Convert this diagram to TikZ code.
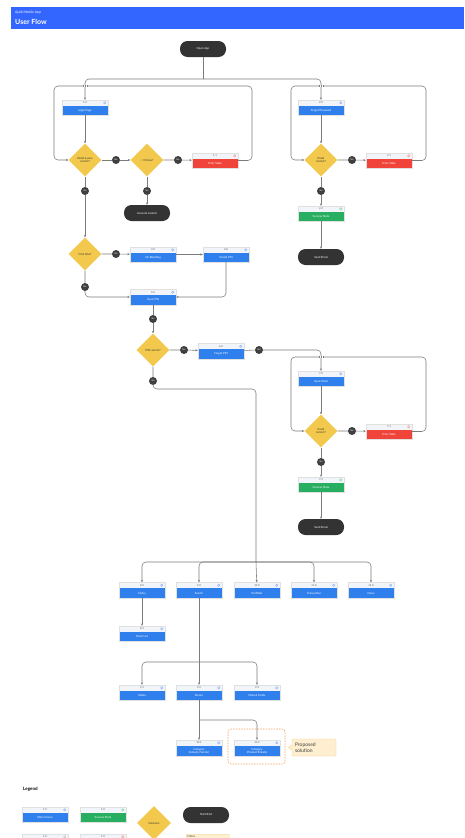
\documentclass[tikz,border=0pt]{standalone}
\usepackage{fontspec}
\setmainfont{Lato}
\usetikzlibrary{arrows.meta,calc,shapes.geometric}

\definecolor{hdrblue}{HTML}{3366FF}
\definecolor{scrblue}{HTML}{2F80ED}
\definecolor{errred}{HTML}{F0443A}
\definecolor{okgreen}{HTML}{27AE60}
\definecolor{decyellow}{HTML}{F2C94C}
\definecolor{pilldark}{HTML}{333333}
\definecolor{hdrgray}{HTML}{F1F4F8}
\definecolor{linegray}{HTML}{7C7C7C}
\definecolor{bubblegray}{HTML}{3F3F3F}
\definecolor{notefill}{HTML}{FDEFCF}
\definecolor{notedraw}{HTML}{F6D58E}
\definecolor{propdash}{HTML}{F5A35C}
\definecolor{iconblue}{HTML}{7AA7F5}
\definecolor{iconred}{HTML}{F28B82}
\definecolor{icongreen}{HTML}{6FCF97}
\definecolor{icongray}{HTML}{B8B8B8}

\tikzset{
  scr/.style={rectangle, minimum width=46, inner sep=0, draw=none},
  scrnum/.style={font=\fontsize{2.6}{3}\selectfont, text=black!65, inner sep=0},
  scrtxt/.style={font=\fontsize{2.8}{3.3}\selectfont, text=white, align=center, inner sep=0},
  dec/.style={diamond, fill=decyellow, minimum width=33, minimum height=33, inner sep=0,
    align=center, font=\fontsize{2.8}{3.3}\selectfont, text=black!80},
  pill/.style={rectangle, rounded corners=7.5, fill=pilldark, minimum width=46, minimum height=16,
    text=white, font=\fontsize{2.8}{3.3}\selectfont},
  bub/.style={circle, fill=bubblegray, minimum size=8, inner sep=0, text=white,
    font=\fontsize{2.3}{2.6}\selectfont},
  conn/.style={draw=linegray, line width=0.55pt},
  flow/.style={conn, -{Stealth[length=2.4pt, width=2.2pt]}},
  notebox/.style={fill=notefill, draw=notedraw, line width=0.4pt, rounded corners=0.8,
    align=left, text=black!75},
  propbox/.style={draw=propdash, line width=0.6pt, dash pattern=on 1.5pt off 1.2pt, rounded corners=3},
}

% screen: [height] name, position, number, text, colour, icon colour
\newcommand{\screenbox}[7][15]{%
  \node[scr, minimum height=#1] (#2) at (#3) {};
  \fill[hdrgray] (#2.north west) rectangle ($(#2.north east)+(0,6)$);
  \fill[#6] ($(#2.north west)+(0,6)$) rectangle (#2.south east);
  \draw[black!12, line width=0.2pt] (#2.north west) rectangle (#2.south east);
  \node[scrnum] (#2-no) at ($(#2.north)+(0,3)$) {#4};
  \node[scrtxt] (#2-tx) at ($(#2.south)+(0,{-(#1-6)/2})$) {#5};
  \draw[#7, line width=0.35pt] ($(#2.north east)+(-3.5,3)$) circle (1.2pt);
}

% line jump where a connector crosses a loop
\newcommand{\jumpmark}[1]{%
  \fill[white] ($(#1)+(-1.8,-1.3)$) rectangle ($(#1)+(1.8,1.3)$);
  \draw[conn] ($(#1)+(0,-1.4)$) -- ($(#1)+(0,1.4)$);
  \draw[conn, line width=0.3pt] ($(#1)+(-1.8,-1.4)$) -- ($(#1)+(-1.8,1.4)$)
                                ($(#1)+(1.8,-1.4)$) -- ($(#1)+(1.8,1.4)$);
}

\begin{document}
\begin{tikzpicture}[x=1pt, y=-1pt]
    \useasboundingbox (0,0) rectangle (464,838);
    \clip (0,0) rectangle (464,838);
    \fill[white] (0,0) rectangle (464,838);

    % 標題
    \fill[hdrblue] (11,7) rectangle (464,29);
    \node[anchor=west, inner sep=0, text=white, font=\fontsize{3.4}{4}\selectfont] (apptitle) at (15,12.5) {Ajaib Mobile App};
    \node[anchor=west, inner sep=0, text=white, font=\fontsize{7}{8}\selectfont\bfseries] (pagetitle) at (15,22) {User Flow};

    % 定義轉折點
    \coordinate (split1) at (203,79);
    \coordinate (loopAr) at (252,86);
    \coordinate (loopAl) at (54,86);
    \coordinate (loopCr) at (426,86);
    \coordinate (loopCl) at (291,86);
    \coordinate (loopBr) at (426,357);
    \coordinate (loopBl) at (291,357);
    \coordinate (jumpA) at (85,86);
    \coordinate (jumpC) at (321,86);
    \coordinate (jumpB) at (321,357);
    \coordinate (turn1) at (256,389);
    \coordinate (split2) at (256,562);
    \coordinate (split3) at (199,662);
    \coordinate (split4) at (199,720);

    % 開始
    \node[pill] (start) at (203,49) {Open App};

    % 登入
    \screenbox{login}{85,107.5}{1.0}{Login Page}{scrblue}{iconblue}
    \node[dec] (d1) at (85,160) {Email \& pass\\correct?};
    \node[bub] (no1) at (116,160) {No};
    \node[dec] (d2) at (147,160) {< 3 times?};
    \node[bub] (no2) at (178,160) {No};
    \screenbox{err1}{215,160.5}{1.1}{Error State}{errred}{iconred}
    \node[bub] (yes2) at (147,191) {Yes};
    \node[pill] (locked) at (147,213) {Account Locked};
    \node[bub] (yes1) at (85,191) {Yes};

    % 忘記密碼
    \screenbox{forgotpw}{321,107.5}{2.0}{Forgot Password}{scrblue}{iconblue}
    \node[dec] (d6) at (321,160) {Email\\correct?};
    \node[bub] (no6) at (352,160) {No};
    \screenbox{err2}{389,160.5}{2.1}{Error State}{errred}{iconred}
    \node[bub] (yes8) at (321,191) {Yes};
    \screenbox{success2}{321,213.5}{2.2}{Success State}{okgreen}{icongreen}
    \node[pill] (sendmail1) at (321,257) {Send Email};

    % PIN
    \node[dec] (d3) at (85,254) {First time?};
    \node[bub] (yes3) at (116,254) {Yes};
    \screenbox{onboard}{153,254.5}{3.0}{On Boarding}{scrblue}{iconblue}
    \screenbox{create}{226,254.5}{4.0}{Create PIN}{scrblue}{iconblue}
    \node[bub] (no3) at (85,287) {No};
    \screenbox{inputpin}{153,297}{5.0}{Input PIN}{scrblue}{iconblue}
    \node[bub] (yes4) at (153,319) {Yes};
    \node[dec] (d4) at (153,350) {PIN correct?};
    \node[bub] (no4) at (184,350) {No};
    \screenbox{forgotpin}{221,351}{6.0}{Forgot PIN}{scrblue}{iconblue}
    \node[bub] (yes5) at (259,350) {Yes};
    \node[bub] (yes7) at (153,381) {Yes};

    % 重設 PIN
    \screenbox{inputemail}{321,378.5}{7.0}{Input Email}{scrblue}{iconblue}
    \node[dec] (d5) at (321,431) {Email\\correct?};
    \node[bub] (no5) at (352,431) {No};
    \screenbox{err7}{389,431.5}{7.1}{Error State}{errred}{iconred}
    \node[bub] (yes6) at (321,462) {Yes};
    \screenbox{success7}{321,484.5}{7.2}{Success State}{okgreen}{icongreen}
    \node[pill] (sendmail2) at (321,527) {Send Email};

    % 主選單
    \screenbox{home}{142,590}{8.0}{Home}{scrblue}{iconblue}
    \screenbox{search}{199,590}{9.0}{Search}{scrblue}{iconblue}
    \screenbox{portfolio}{257,590}{10.0}{Portfolio}{scrblue}{iconblue}
    \screenbox{transaction}{314,590}{11.0}{Transaction}{scrblue}{iconblue}
    \screenbox{news}{371,590}{12.0}{News}{scrblue}{iconblue}
    \screenbox{stocklist}{142,633.5}{8.1}{Stock List}{scrblue}{iconblue}
    \screenbox{indeks}{142,692.5}{9.1}{Indeks}{scrblue}{iconblue}
    \screenbox{stocks}{199,692.5}{9.2}{Stocks}{scrblue}{iconblue}
    \screenbox{mutual}{257,692.5}{9.3}{Mutual Funds}{scrblue}{iconblue}
    \screenbox[16]{cat1}{199,748}{10.1}{Category\\(Industry Sector)}{scrblue}{iconblue}
    \screenbox[16]{cat2}{257,748}{10.2}{Category\\(Product Brands)}{scrblue}{iconblue}

    % 建議方案
    \draw[propbox] (228,729) rectangle (285,764);
    \node[notebox, text width=38, inner sep=3, minimum height=17, font=\fontsize{5}{6}\selectfont] (propnote) at (314,747.5) {Proposed\\solution};
    \fill[notefill] ($(propnote.west)+(0.3,-2.6)$) -- ++(-3.6,2.6) -- ++(3.6,2.6) -- cycle;
    \draw[notedraw, line width=0.4pt] ($(propnote.west)+(0,-2.6)$) -- ++(-3.4,2.6) -- ++(3.4,2.6);

    % 畫出邊
    \draw[flow, rounded corners=4] (err1.east) -| (loopAr) -- (loopAl) |- (d1.west);
    \draw[flow, rounded corners=4] (err2.east) -| (loopCr) -- (loopCl) |- (d6.west);
    \draw[flow, rounded corners=4] (err7.east) -| (loopBr) -- (loopBl) |- (d5.west);

    \draw[conn] (start) -- (split1);
    \draw[flow, rounded corners=4] (split1) -| (login);
    \draw[flow, rounded corners=4] (split1) -| (forgotpw);
    \draw[flow] (login) -- (d1);
    \draw[flow] (d1) -- (no1) -- (d2);
    \draw[flow] (d2) -- (no2) -- (err1);
    \draw[flow] (d2) -- (yes2) -- (locked);
    \draw[flow] (d1) -- (yes1) -- (d3);

    \draw[flow] (forgotpw) -- (d6);
    \draw[flow] (d6) -- (no6) -- (err2);
    \draw[flow] (d6) -- (yes8) -- (success2);
    \draw[flow] (success2) -- (sendmail1);

    \draw[flow] (d3) -- (yes3) -- (onboard);
    \draw[flow] (onboard) -- (create);
    \draw[flow, rounded corners=4] (d3) -- (no3) |- (inputpin);
    \draw[flow, rounded corners=4] (create) |- (inputpin);
    \draw[flow] (inputpin) -- (yes4) -- (d4);
    \draw[flow] (d4) -- (no4) -- (forgotpin);
    \draw[flow, rounded corners=4] (forgotpin) -- (yes5) -| (inputemail);

    \draw[flow] (inputemail) -- (d5);
    \draw[flow] (d5) -- (no5) -- (err7);
    \draw[flow] (d5) -- (yes6) -- (success7);
    \draw[flow] (success7) -- (sendmail2);

    \jumpmark{jumpA}
    \jumpmark{jumpC}
    \jumpmark{jumpB}

    \draw[conn, rounded corners=4] (d4) -- (yes7) |- (turn1) -- (split2);
    \draw[flow, rounded corners=4] (split2) -| (home);
    \draw[flow, rounded corners=4] (split2) -| (search);
    \draw[flow] (split2) -- (portfolio);
    \draw[flow, rounded corners=4] (split2) -| (transaction);
    \draw[flow, rounded corners=4] (split2) -| (news);
    \draw[flow] (home) -- (stocklist);
    \draw[conn] (search) -- (split3);
    \draw[flow, rounded corners=4] (split3) -| (indeks);
    \draw[flow] (split3) -- (stocks);
    \draw[flow, rounded corners=4] (split3) -| (mutual);
    \draw[flow] (stocks) -- (cat1);
    \draw[flow, rounded corners=4] (split4) -| (cat2);

    % 圖例
    \node[anchor=west, inner sep=0, font=\fontsize{4.5}{5}\selectfont\bfseries] (legendtitle) at (23,789) {Legend};
    \screenbox{legmain}{45,814.5}{1.0}{Main Screen}{scrblue}{iconblue}
    \screenbox{legok}{103,814.5}{1.0}{Success State}{okgreen}{icongreen}
    \node[dec, minimum width=34, minimum height=34] (legdec) at (154,823) {Decision};
    \node[pill] (legpill) at (206,815) {Start/End};
    \screenbox{legsub}{45,841.5}{1.0}{}{black!40}{icongray}
    \screenbox{legerr}{103,841.5}{1.0}{}{errred}{iconred}
    \node[notebox, anchor=north west, text width=40, inner sep=1.5, font=\fontsize{2.8}{3.3}\selectfont] (legnote) at (186,834) {Notes\\[3pt]~};
\end{tikzpicture}
\end{document}
